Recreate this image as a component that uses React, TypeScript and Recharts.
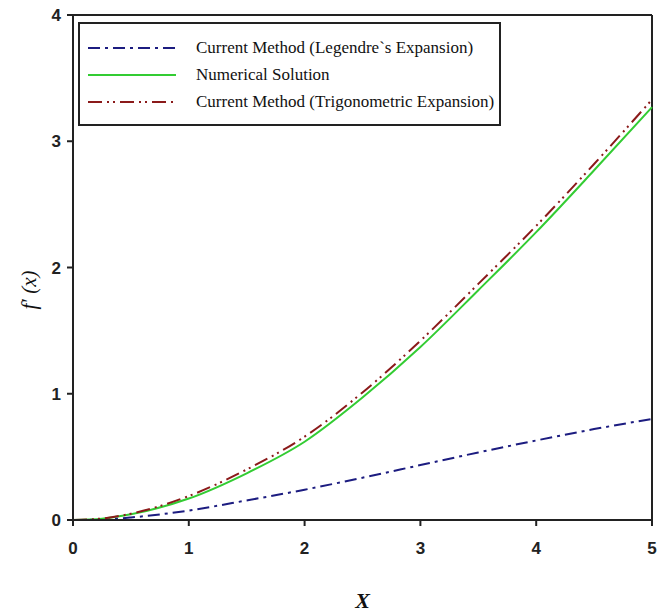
import { LineChart, Line, XAxis, YAxis, ReferenceLine, Label } from "recharts";

const xValues = [0, 0.25, 0.5, 1, 1.5, 2, 2.5, 3, 3.5, 4, 4.5, 5];
const legendre = [0, 0.004, 0.02, 0.075, 0.155, 0.24, 0.335, 0.435, 0.535, 0.63, 0.72, 0.8];
const numerical = [0, 0.01, 0.045, 0.17, 0.37, 0.62, 0.97, 1.37, 1.82, 2.28, 2.77, 3.27];
const trigonometric = [0, 0.012, 0.05, 0.19, 0.4, 0.66, 1.01, 1.42, 1.87, 2.33, 2.82, 3.33];

const xTicks = [0, 1, 2, 3, 4, 5];
const yTicks = [0, 1, 2, 3, 4];

const series = [
  { key: "legendre", name: "Current Method (Legendre`s Expansion)", color: "#1c1c80", dash: "12 5 3 5", width: 2 },
  { key: "numerical", name: "Numerical Solution", color: "#33cc33", dash: undefined, width: 2 },
  { key: "trigonometric", name: "Current Method (Trigonometric Expansion)", color: "#8b1a1a", dash: "14 5 2 4 2 5", width: 2 },
];

const data = xValues.map((x, i) => ({
  x,
  legendre: legendre[i],
  numerical: numerical[i],
  trigonometric: trigonometric[i],
}));

const tickStyle = { fontSize: 17, fill: "#222", fontFamily: "Liberation Sans, Arial, sans-serif", fontWeight: 600 };

// legend drawn as an overlay box in the top-left of the plot
function LegendBox() {
  return (
    <div
      style={{
        position: "absolute",
        left: 78,
        top: 22,
        width: 419,
        height: 90,
        border: "2px solid #222",
        background: "#fff",
        paddingTop: 10,
      }}
    >
      {series.map((s) => (
        <div key={s.key} style={{ display: "flex", alignItems: "center", height: 27, whiteSpace: "nowrap" }}>
          <svg width={108} height={10} style={{ marginLeft: 8, flexShrink: 0 }}>
            <line x1={0} y1={5} x2={88} y2={5} stroke={s.color} strokeWidth={s.width} strokeDasharray={s.dash} />
          </svg>
          <span style={{ fontFamily: "Liberation Serif, Times New Roman, serif", fontSize: 17, color: "#111" }}>
            {s.name}
          </span>
        </div>
      ))}
    </div>
  );
}

export default function App() {
  return (
    <div style={{ position: "absolute", left: 0, top: 0, width: 659, height: 614, background: "#fff" }}>
      <LineChart width={659} height={614} data={data} margin={{ top: 15, right: 7, bottom: 0, left: 0 }}>
        <XAxis
          dataKey="x"
          type="number"
          domain={[0, 5]}
          ticks={xTicks}
          height={94}
          tick={tickStyle}
          tickSize={6}
          tickMargin={16}
          axisLine={{ stroke: "#222", strokeWidth: 2 }}
          tickLine={{ stroke: "#222", strokeWidth: 2 }}
        >
          <Label
            value="X"
            position="insideBottom"
            offset={6}
            style={{ fontSize: 22, fontStyle: "italic", fontWeight: 700, fontFamily: "Liberation Serif, serif", fill: "#111" }}
          />
        </XAxis>
        <YAxis
          type="number"
          domain={[0, 4]}
          ticks={yTicks}
          width={73}
          tick={tickStyle}
          tickSize={6}
          tickMargin={6}
          axisLine={{ stroke: "#222", strokeWidth: 2 }}
          tickLine={{ stroke: "#222", strokeWidth: 2 }}
        >
          <Label
            content={() => (
              <text
                x={36}
                y={290}
                transform="rotate(-90 36 290)"
                textAnchor="middle"
                style={{ fontSize: 21, fontStyle: "italic", fontFamily: "Liberation Serif, serif", fill: "#111" }}
              >
                f′ (x)
              </text>
            )}
          />
        </YAxis>
        <ReferenceLine y={4} stroke="#222" strokeWidth={2} />
        <ReferenceLine x={5} stroke="#222" strokeWidth={2} />
        {series.map((s) => (
          <Line
            key={s.key}
            type="monotone"
            dataKey={s.key}
            name={s.name}
            stroke={s.color}
            strokeWidth={s.width}
            strokeDasharray={s.dash}
            dot={false}
            isAnimationActive={false}
          />
        ))}
      </LineChart>
      <LegendBox />
    </div>
  );
}
